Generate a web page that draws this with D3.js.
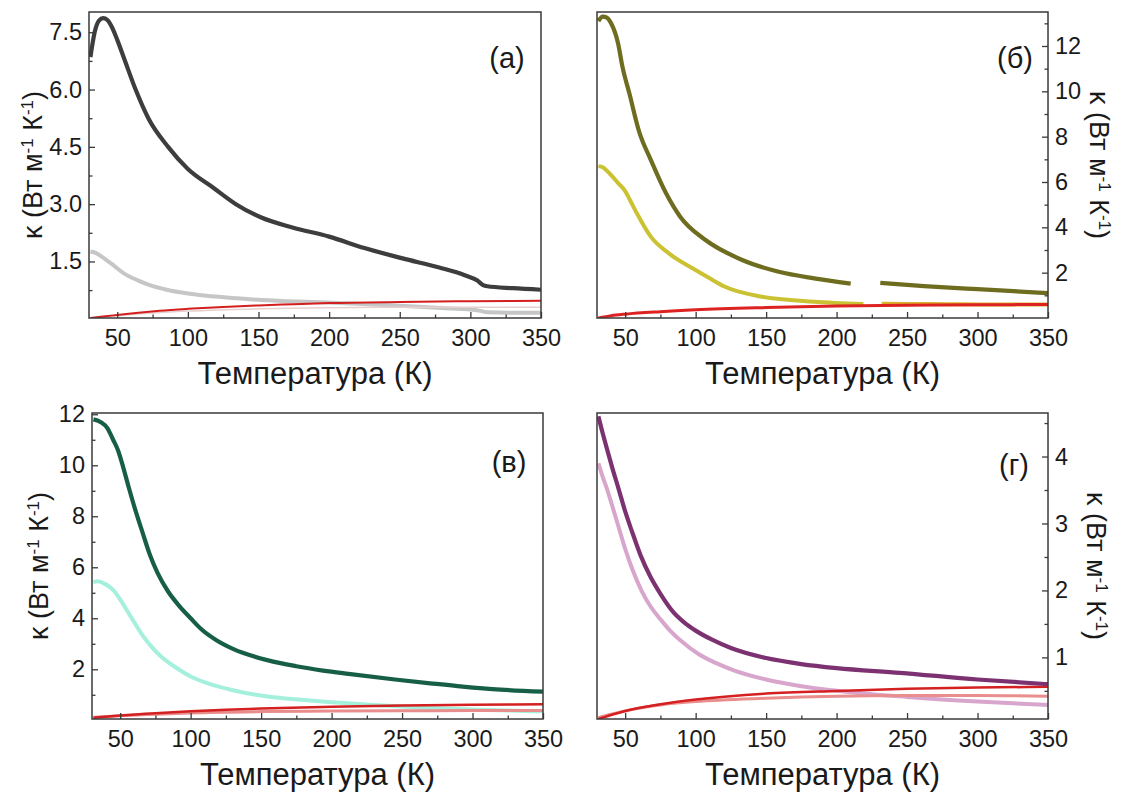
<!DOCTYPE html>
<html>
<head>
<meta charset="utf-8">
<script src="https://cdn.jsdelivr.net/npm/d3@7"></script>
<style>
  html, body { margin: 0; padding: 0; background: #fff; }
  svg { display: block; font-family: "Liberation Sans", Arial, sans-serif; }
</style>
</head>
<body>
<script>
// Temperature ticks shared by all four panels (K)
const tempMajor = [50, 100, 150, 200, 250, 300, 350];
const tempMinor = [75, 125, 175, 225, 275, 325];

// Thermal conductivity readings, [T (K), κ (W m^-1 K^-1)]
// Panel (а)
const aTotal = [[31,6.85],[34,7.5],[37,7.8],[40,7.87],[43,7.82],[46,7.65],[50,7.3],[55,6.8],[63,6.0],[72,5.25],[86,4.5],[100,3.92],[118,3.43],[134,3.0],[152,2.65],[174,2.39],[200,2.15],[225,1.85],[252,1.58],[278,1.34],[296,1.14],[305,1.0],[309,0.88],[312,0.85],[330,0.8],[350,0.76]];
const aLattice = [[31,1.76],[35,1.72],[40,1.6],[48,1.38],[55,1.18],[65,1.0],[73,0.88],[85,0.76],[100,0.66],[120,0.58],[144,0.51],[170,0.46],[194,0.43],[220,0.39],[250,0.34],[280,0.28],[300,0.24],[308,0.2],[312,0.17],[330,0.16],[350,0.16]];
const aElectronic = [[31,0.02],[40,0.06],[50,0.1],[65,0.16],[80,0.21],[100,0.26],[125,0.31],[150,0.35],[175,0.38],[200,0.41],[250,0.44],[300,0.46],[350,0.47]];
const aElectronic2 = [[31,0.02],[50,0.08],[75,0.15],[100,0.2],[150,0.26],[200,0.29],[250,0.3],[300,0.3],[350,0.3]];

// Panel (б) — the record has a gap between 210 and 231 K
const bTotal1 = [[31,13.1],[34,13.3],[37,13.25],[40,13.0],[45,12.1],[48,11.1],[53,9.9],[60,8.2],[68,7.0],[79,5.5],[89,4.47],[107,3.44],[133,2.56],[159,2.04],[184,1.75],[210,1.52]];
const bTotal2 = [[231,1.55],[262,1.41],[300,1.27],[350,1.1]];
const bLattice1 = [[31,6.7],[34,6.65],[37,6.5],[45,5.95],[50,5.6],[53,5.25],[58,4.65],[68,3.6],[81,2.85],[99,2.15],[110,1.75],[120,1.4],[146,0.95],[184,0.72],[219,0.62]];
const bLattice2 = [[232,0.63],[255,0.62],[277,0.61],[300,0.6],[350,0.6]];
const bElectronic = [[31,0.0],[40,0.1],[50,0.17],[75,0.28],[100,0.36],[150,0.46],[200,0.53],[250,0.56],[300,0.58],[350,0.6]];

// Panel (в)
const cTotal = [[31,11.8],[36,11.7],[41,11.45],[45,11.0],[48.5,10.58],[52,9.95],[56,9.15],[61,8.2],[66,7.34],[71,6.5],[76.5,5.78],[84,5.05],[92,4.48],[100,4.0],[107,3.6],[118,3.15],[130,2.8],[155,2.35],[175,2.12],[194,1.95],[212,1.82],[245,1.6],[270,1.45],[293,1.32],[320,1.2],[350,1.12]];
const cLattice = [[31,5.42],[34,5.45],[38,5.38],[42,5.25],[46,5.05],[51,4.65],[56,4.2],[61,3.75],[66,3.32],[72,2.9],[79,2.5],[90,2.05],[100,1.72],[115,1.4],[130,1.18],[152,0.95],[170,0.84],[198,0.72],[230,0.6],[270,0.48],[310,0.4],[350,0.35]];
const cElectronic = [[31,0.1],[50,0.19],[75,0.28],[100,0.35],[125,0.41],[150,0.46],[200,0.53],[250,0.58],[300,0.61],[350,0.63]];
const cElectronic2 = [[31,0.12],[50,0.18],[75,0.24],[100,0.29],[150,0.34],[200,0.36],[250,0.37],[300,0.38],[350,0.38]];

// Panel (г)
const dTotal = [[31,4.6],[34,4.35],[37,4.12],[41,3.82],[45,3.54],[50,3.18],[55,2.87],[61,2.52],[68,2.2],[75,1.95],[84,1.68],[92,1.52],[100,1.4],[112,1.26],[125,1.14],[150,0.99],[175,0.9],[200,0.84],[245,0.77],[300,0.67],[350,0.6]];
const dLattice = [[31,3.9],[34,3.7],[37,3.52],[41,3.25],[45,2.97],[50,2.62],[55,2.32],[62,1.98],[68,1.76],[75,1.57],[81,1.42],[90,1.24],[102,1.05],[115,0.91],[128,0.8],[150,0.67],[175,0.57],[197,0.51],[225,0.45],[250,0.41],[300,0.34],[350,0.29]];
const dElectronic = [[31,0.08],[40,0.14],[50,0.2],[75,0.3],[100,0.37],[150,0.46],[200,0.5],[250,0.53],[300,0.55],[350,0.56]];
const dElectronic2 = [[31,0.1],[40,0.15],[50,0.2],[75,0.29],[100,0.34],[150,0.39],[200,0.42],[250,0.43],[300,0.43],[350,0.42]];

// κ axis ticks per panel
const aTicks = [1.5, 3.0, 4.5, 6.0, 7.5];
const aMinor = [0.75, 2.25, 3.75, 5.25, 6.75];
const bTicks = [2, 4, 6, 8, 10, 12];
const bMinor = [1, 3, 5, 7, 9, 11, 13];
const cTicks = [2, 4, 6, 8, 10, 12];
const cMinor = [1, 3, 5, 7, 9, 11];
const dTicks = [1, 2, 3, 4];
const dMinor = [0.5, 1.5, 2.5, 3.5, 4.5];

const xLabel = "Температура (К)";

const svg = d3.select("body").append("svg")
  .attr("width", 1130).attr("height", 794);
svg.append("rect").attr("width", 1130).attr("height", 794).attr("fill", "#fff");

const frameColor = "#3a3a3a";
const textColor = "#1a1a1a";

function drawPanel(p, idx) {
  const g = svg.append("g");
  const x = d3.scaleLinear().domain([30, 350]).range([p.x0, p.x1]);
  const y = d3.scaleLinear().domain(p.yDomain).range([p.y1, p.y0]);

  const clipId = "clip" + idx;
  g.append("clipPath").attr("id", clipId).append("rect")
    .attr("x", p.x0).attr("y", p.y0)
    .attr("width", p.x1 - p.x0).attr("height", p.y1 - p.y0);

  const line = d3.line().x(d => x(d[0])).y(d => y(d[1])).curve(d3.curveMonotoneX);
  const plot = g.append("g").attr("clip-path", `url(#${clipId})`);
  p.series.forEach(s => {
    plot.append("path").datum(s.data)
      .attr("d", line)
      .attr("fill", "none")
      .attr("stroke", s.color)
      .attr("stroke-width", s.width)
      .attr("stroke-linejoin", "round")
      .attr("stroke-linecap", "butt");
  });

  // x axis: inward major and minor ticks
  g.append("g").attr("transform", `translate(0,${p.y1})`)
    .call(d3.axisBottom(x).tickValues(tempMajor).tickSizeInner(-6).tickSizeOuter(0).tickPadding(11));
  g.append("g").attr("transform", `translate(0,${p.y1})`)
    .call(d3.axisBottom(x).tickValues(tempMinor).tickSizeInner(-3.5).tickSizeOuter(0).tickFormat(""));

  // κ axis on the left or the right side
  const yx = p.side === "left" ? p.x0 : p.x1;
  const axisFn = p.side === "left" ? d3.axisLeft : d3.axisRight;
  g.append("g").attr("transform", `translate(${yx},0)`)
    .call(axisFn(y).tickValues(p.ticks).tickSizeInner(-6).tickSizeOuter(0).tickPadding(7)
      .tickFormat(p.fmt));
  g.append("g").attr("transform", `translate(${yx},0)`)
    .call(axisFn(y).tickValues(p.minor).tickSizeInner(-3.5).tickSizeOuter(0).tickFormat(""));

  g.selectAll(".domain").remove();
  g.selectAll(".tick line").attr("stroke", frameColor).attr("stroke-width", 1.3);
  g.selectAll(".tick text").attr("fill", textColor)
    .style("font-family", '"Liberation Sans", Arial, sans-serif')
    .style("font-size", "23.5px");

  // frame
  g.append("rect")
    .attr("x", p.x0).attr("y", p.y0)
    .attr("width", p.x1 - p.x0).attr("height", p.y1 - p.y0)
    .attr("fill", "none").attr("stroke", frameColor).attr("stroke-width", 1.5);

  // axis titles
  g.append("text")
    .attr("x", (p.x0 + p.x1) / 2).attr("y", p.y1 + 55)
    .attr("dy", "0.35em")
    .attr("text-anchor", "middle")
    .attr("fill", textColor)
    .style("font-size", "31px")
    .text(xLabel);

  const yt = g.append("text")
    .attr("transform", `translate(${p.titleX},${(p.y0 + p.y1) / 2}) rotate(${p.side === "left" ? -90 : 90})`)
    .attr("dy", "0.35em")
    .attr("text-anchor", "middle")
    .attr("fill", textColor)
    .style("font-size", "27px");
  yt.append("tspan").text("κ (Вт м");
  yt.append("tspan").attr("baseline-shift", "super").style("font-size", "17px").text("-1");
  yt.append("tspan").text(" К");
  yt.append("tspan").attr("baseline-shift", "super").style("font-size", "17px").text("-1");
  yt.append("tspan").text(")");

  // panel letter
  g.append("text")
    .attr("x", p.labelX).attr("y", p.labelY)
    .attr("dy", "0.35em")
    .attr("text-anchor", "middle")
    .attr("fill", textColor)
    .style("font-size", "29px")
    .text(p.label);
}

const fmt1 = d3.format(".1f");
const fmt0 = d3.format("d");

const panels = [
  { x0: 89, x1: 541, y0: 12, y1: 318, yDomain: [0.02, 8.03], side: "left",
    ticks: aTicks, minor: aMinor, fmt: fmt1, titleX: 33, label: "(а)", labelX: 507, labelY: 58,
    series: [
      { data: aLattice, color: "#c6c6c6", width: 4 },
      { data: aElectronic2, color: "#e6cfcf", width: 1.5 },
      { data: aElectronic, color: "#d41f1f", width: 2 },
      { data: aTotal, color: "#3d3d3d", width: 4.2 }
    ] },
  { x0: 597, x1: 1048, y0: 12, y1: 318, yDomain: [0, 13.5], side: "right",
    ticks: bTicks, minor: bMinor, fmt: fmt0, titleX: 1099, label: "(б)", labelX: 1015, labelY: 58,
    series: [
      { data: bLattice1, color: "#cbc233", width: 4 },
      { data: bLattice2, color: "#dcb02a", width: 4 },
      { data: bElectronic, color: "#dd2222", width: 3 },
      { data: bTotal1, color: "#6d6c1f", width: 4.2 },
      { data: bTotal2, color: "#6d6c1f", width: 4.2 }
    ] },
  { x0: 92, x1: 543, y0: 413, y1: 719, yDomain: [0.05, 12.05], side: "left",
    ticks: cTicks, minor: cMinor, fmt: fmt0, titleX: 39, label: "(в)", labelX: 509, labelY: 462,
    series: [
      { data: cLattice, color: "#a4f0dc", width: 4 },
      { data: cElectronic2, color: "#e98c8c", width: 3 },
      { data: cElectronic, color: "#d42020", width: 2.5 },
      { data: cTotal, color: "#175e47", width: 4.2 }
    ] },
  { x0: 597, x1: 1048, y0: 413, y1: 719, yDomain: [0.08, 4.65], side: "right",
    ticks: dTicks, minor: dMinor, fmt: fmt0, titleX: 1096, label: "(г)", labelX: 1014, labelY: 465,
    series: [
      { data: dLattice, color: "#d8a5cc", width: 4 },
      { data: dElectronic2, color: "#ea8d8d", width: 3 },
      { data: dElectronic, color: "#d42020", width: 2.5 },
      { data: dTotal, color: "#7c3170", width: 4.2 }
    ] }
];

panels.forEach(drawPanel);
</script>
</body>
</html>
